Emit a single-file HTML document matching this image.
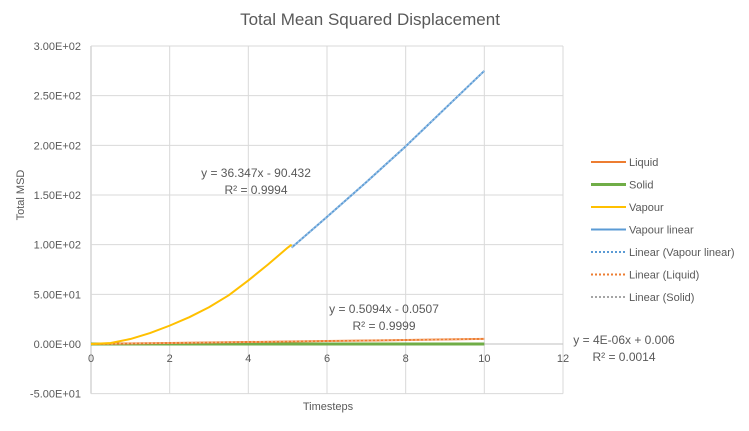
<!DOCTYPE html>
<html><head><meta charset="utf-8"><style>
body{margin:0;background:#fff;font-family:"Liberation Sans",sans-serif}
svg text{font-family:"Liberation Sans",sans-serif;fill:#595959}
</style></head><body>
<svg id="c" width="749" height="426">
<rect x="0" y="0" width="749" height="426" fill="#fff"/>
<text x="370" y="25" font-size="17" text-anchor="middle">Total Mean Squared Displacement</text>
<g id="grid"></g><g id="ticks"></g><g id="series"></g>
<text x="328" y="410" font-size="11" text-anchor="middle">Timesteps</text>
<text transform="translate(24,195) rotate(-90)" font-size="11" text-anchor="middle">Total MSD</text>
<g><text x="256" y="177" font-size="12" text-anchor="middle">y = 36.347x - 90.432</text><text x="256" y="194" font-size="12" text-anchor="middle">R² = 0.9994</text></g>
<g><text x="384" y="313" font-size="12" text-anchor="middle">y = 0.5094x - 0.0507</text><text x="384" y="330" font-size="12" text-anchor="middle">R² = 0.9999</text></g>
<g><text x="624" y="344" font-size="12" text-anchor="middle">y = 4E-06x + 0.006</text><text x="624" y="361" font-size="12" text-anchor="middle">R² = 0.0014</text></g>
<g id="legend"></g>
</svg>
<script>
const xTicks=[0,2,4,6,8,10,12];
const yTicks=[-50,0,50,100,150,200,250,300];
const yLabels=["-5.00E+01","0.00E+00","5.00E+01","1.00E+02","1.50E+02","2.00E+02","2.50E+02","3.00E+02"];
const vapourX=[0,0.5,1,1.5,2,2.5,3,3.5,4,4.5,5,5.1];
const vapourY=[0,1,5,11,18.5,27,37,49,64,80,97,100];
const vapLinX=[5.1,6,7,8,9,10];
const vapLinY=[97,128,163,199,237,275];
const liquidX=[0,2,4,6,8,10];
const liquidY=[0,1,2,3,4,5.1];
const solidX=[0,10];
const solidY=[0,0];
const X=v=>91+v*(472/12), Y=v=>344-v*(298/300);
const NS="http://www.w3.org/2000/svg";
function mk(p,t,a){const e=document.createElementNS(NS,t);for(const k in a)e.setAttribute(k,a[k]);document.getElementById(p).appendChild(e);return e;}
xTicks.forEach(t=>{const l=mk('grid','line',{x1:X(t),x2:X(t),y1:Y(300),y2:Y(-50),stroke:t===0?'#bfbfbf':'#d9d9d9'});


const tx=mk('ticks','text',{x:X(t),y:Y(0)+18,'font-size':11,'text-anchor':'middle'});tx.textContent=t;

});
yTicks.forEach((t,i)=>{const l=mk('grid','line',{x1:X(0),x2:X(12),y1:Y(t),y2:Y(t),stroke:'#d9d9d9'});


const tx=mk('ticks','text',{x:81,y:Y(t)+4,'font-size':11,'text-anchor':'end'});tx.textContent=yLabels[i];

});
mk('grid','line',{x1:X(0),x2:X(12),y1:Y(0),y2:Y(0),stroke:'#bfbfbf'});
function pts(xs,ys){return xs.map((x,i)=>X(x)+','+Y(ys[i])).join(' ');}
function line(xs,ys,c,w,dash,name){const p=mk('series','polyline',{points:pts(xs,ys),fill:'none',stroke:c,'stroke-width':w,'stroke-linejoin':'round'});if(dash)p.setAttribute('stroke-dasharray',dash);

}
line(solidX,solidY,'#70ad47',3,null,'solid-series');
line(liquidX,liquidY,'#ed7d31',2,null,'liquid-series');
line(liquidX,liquidY,'#f4b183',1.5,'2,2','liquid-trendline');
line(vapourX,vapourY,'#ffc000',2,null,'vapour-series');
line(vapLinX,vapLinY,'#5b9bd5',2,null,'vapour-linear-series');
line(vapLinX,vapLinY,'#9dc3e6',1.5,'2,2','vapour-linear-trendline');
const legNames=["Liquid","Solid","Vapour","Vapour linear","Linear (Vapour linear)","Linear (Liquid)","Linear (Solid)"];
const legColors=['#ed7d31','#70ad47','#ffc000','#5b9bd5','#5b9bd5','#ed7d31','#a5a5a5'];
legNames.forEach((n,i)=>{const y=162+i*22.5;
const l=mk('legend','line',{x1:591,x2:626,y1:y,y2:y,stroke:legColors[i],'stroke-width':i===1?3:2});
if(i>=4)l.setAttribute('stroke-dasharray','2,2');


const t=mk('legend','text',{x:629,y:y+4,'font-size':11});t.textContent=n;

});
</script>
</body></html>
